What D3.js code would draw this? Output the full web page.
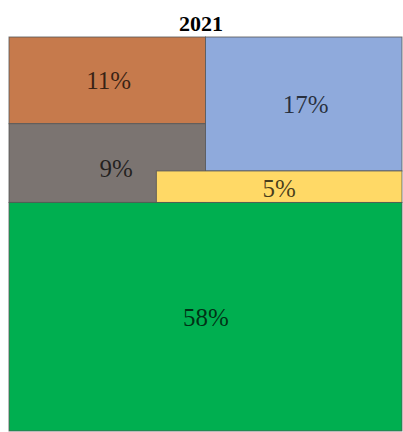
<!DOCTYPE html>
<html>
<head>
<meta charset="utf-8">
<script src="https://cdn.jsdelivr.net/npm/d3@7"></script>
<style>
  html, body { margin: 0; padding: 0; background: #fff; }
  svg { display: block; }
</style>
</head>
<body>
<svg id="chart" width="403" height="432"></svg>
<script>
// Share of total, in percent
const title = "2021";
const cells = ["orange", "gray", "blue", "yellow", "green"];
const values = [11, 9, 17, 5, 58];
const labels = ["11%", "9%", "17%", "5%", "58%"];
const colors = ["#C67A4C", "#7B7471", "#8FAADC", "#FFD966", "#00AF50"];

const W = 403, H = 432;
const svg = d3.select("#chart");

// Unit square mapped onto the plot area
const x = d3.scaleLinear().domain([0, 1]).range([9, 402]);
const y = d3.scaleLinear().domain([0, 1]).range([37, 431]);

const total = d3.sum(values);
const share = Object.fromEntries(cells.map((c, i) => [c, values[i] / total]));

// Layout: green strip across the bottom; the top band holds a left column
// (orange over gray), a right column (blue) and a yellow strip, right-aligned,
// along the bottom of the band.
const topH = 1 - share.green;
const blueW = 0.5;
const blueH = share.blue / blueW;
const yellowH = topH - blueH;
const yellowW = share.yellow / yellowH;
const orangeH = share.orange / (1 - blueW);

const rects = {
  orange: { x0: 0, x1: 1 - blueW, y0: 0, y1: orangeH },
  gray:   { x0: 0, x1: 1 - blueW, y0: orangeH, y1: topH },
  blue:   { x0: 1 - blueW, x1: 1, y0: 0, y1: blueH },
  yellow: { x0: 1 - yellowW, x1: 1, y0: blueH, y1: topH },
  green:  { x0: 0, x1: 1, y0: topH, y1: 1 }
};
// Label nudges (px) from the cell centre
const nudge = {
  orange: [1.5, 9], gray: [9, 14], blue: [2, 9], yellow: [0, 10.5], green: [0.5, 9.5]
};

const data = cells.map((c, i) => ({
  key: c, value: values[i], label: labels[i], color: colors[i], r: rects[c]
}));

svg.append("g")
  .selectAll("rect")
  .data(data)
  .join("rect")
  .attr("x", d => x(d.r.x0))
  .attr("y", d => y(d.r.y0))
  .attr("width", d => x(d.r.x1) - x(d.r.x0))
  .attr("height", d => y(d.r.y1) - y(d.r.y0))
  .attr("fill", d => d.color)
  .attr("stroke", "#555")
  .attr("stroke-opacity", 0.8)
  .attr("stroke-width", 1);

svg.append("g")
  .selectAll("text")
  .data(data)
  .join("text")
  .attr("x", d => (x(d.r.x0) + x(d.r.x1)) / 2 + nudge[d.key][0])
  .attr("y", d => (y(d.r.y0) + y(d.r.y1)) / 2 + nudge[d.key][1])
  .attr("text-anchor", "middle")
  .attr("font-family", "'Liberation Serif', 'Times New Roman', serif")
  .attr("font-size", 25)
  .attr("fill", "#000")
  .attr("fill-opacity", 0.72)
  .text(d => d.label);

svg.append("text")
  .attr("x", 201)
  .attr("y", 31)
  .attr("text-anchor", "middle")
  .attr("font-family", "'Liberation Serif', 'Times New Roman', serif")
  .attr("font-weight", "bold")
  .attr("font-size", 22)
  .attr("fill", "#000")
  .text(title);
</script>
</body>
</html>
